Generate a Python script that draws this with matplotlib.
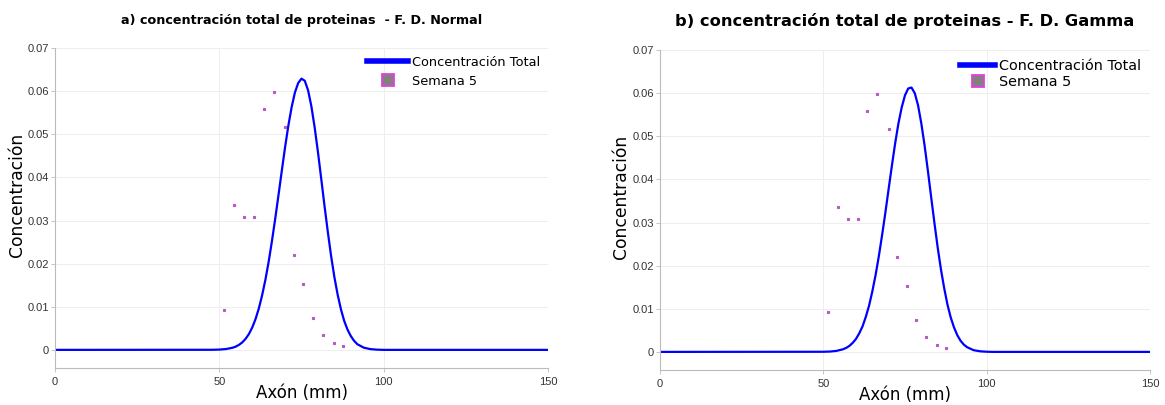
import matplotlib
matplotlib.use('Agg')
import matplotlib.pyplot as plt

# puntos medidos, semana 5 (iguales en ambos paneles)
sem5_x = [51.4, 54.4, 57.5, 60.5, 63.5, 66.5, 70.1, 72.6, 75.6, 78.5, 81.5, 84.8, 87.7]
sem5_y = [0.0093, 0.0336, 0.0309, 0.0309, 0.0559, 0.0599, 0.0518, 0.0219, 0.0153,
          0.0073, 0.0035, 0.0017, 0.0008]

# concentracion total - F. D. Normal
xa = [0, 48, 50, 52, 54, 55, 56, 57, 58, 59, 60, 61, 62, 63, 64, 65, 66, 67, 68, 69,
      70, 71, 72, 73, 74, 75, 76, 77, 78, 79, 80, 81, 82, 83, 84, 85, 86, 87, 88,
      89, 90, 91, 92, 94, 96, 98, 100, 150]
ya = [0, 0.00002, 0.00007, 0.00019, 0.00049, 0.00076, 0.00117, 0.00175, 0.00257,
      0.00368, 0.00517, 0.00711, 0.00956, 0.0126, 0.0162, 0.0204, 0.0252, 0.0304,
      0.0359, 0.0415, 0.0470, 0.0520, 0.0563, 0.0597, 0.0619, 0.0629, 0.0624,
      0.0602, 0.0565, 0.0516, 0.0459, 0.0397, 0.0334, 0.0274, 0.0218, 0.0169,
      0.0128, 0.0094, 0.0067, 0.0047, 0.0032, 0.0021, 0.0013, 0.0005, 0.00017,
      0.00005, 0, 0]

# concentracion total - F. D. Gamma
xb = [0, 50, 52, 54, 56, 57, 58, 59, 60, 61, 62, 63, 64, 65, 66, 67, 68, 69, 70, 71,
      72, 73, 74, 75, 76, 77, 78, 79, 80, 81, 82, 83, 84, 85, 86, 87, 88, 89, 90,
      91, 92, 93, 94, 96, 98, 100, 102, 150]
yb = [0, 0.00003, 0.00008, 0.00023, 0.0006, 0.00092, 0.0014, 0.0021, 0.0030,
      0.0043, 0.0059, 0.0081, 0.0107, 0.0140, 0.0178, 0.0222, 0.0271, 0.0323,
      0.0378, 0.0432, 0.0484, 0.0530, 0.0567, 0.0595, 0.0611, 0.0613, 0.0600,
      0.0572, 0.0530, 0.0479, 0.0421, 0.0360, 0.0300, 0.0243, 0.0192, 0.0148,
      0.0110, 0.0080, 0.0057, 0.0039, 0.0026, 0.0017, 0.0011, 0.0004, 0.00014,
      0.00004, 0, 0]

titulos = ['a) concentración total de proteinas  - F. D. Normal',
           'b) concentración total de proteinas - F. D. Gamma']
xticks = [0, 50, 100, 150]
yticks = [0, 0.01, 0.02, 0.03, 0.04, 0.05, 0.06, 0.07]
yticklabels = ['0', '0.01', '0.02', '0.03', '0.04', '0.05', '0.06', '0.07']

fig = plt.figure(figsize=(11.65, 4.05), dpi=100)
ax1 = fig.add_axes([0.0472, 0.0914, 0.4232, 0.790])
ax2 = fig.add_axes([0.5665, 0.0864, 0.4206, 0.790])

paneles = [(ax1, xa, ya, titulos[0], 9.2, 9.3, 0.45, 3.2, -0.059),
           (ax2, xb, yb, titulos[1], 11.7, 10.4, 0.15, 2.4, -0.061)]
for ax, x, y, tit, tsize, lsize, lspace, hlen, ylx in paneles:
    ax.plot(x, y, color='#0000ff', lw=1.6, label='Concentración Total')
    ax.plot(sem5_x, sem5_y, 's', ms=2.0, mfc='#9a70a0', mec='#b858c8', mew=0.8,
            ls='none', label='Semana 5')
    ax.set_xlim(0, 150)
    ax.set_ylim(-0.0042, 0.07)
    ax.set_xticks(xticks)
    ax.set_yticks(yticks)
    ax.set_yticklabels(yticklabels)
    ax.tick_params(labelsize=8, colors='#333333', length=3, width=0.6,
                   color='#bbbbbb', labelfontfamily='Liberation Sans')
    ax.tick_params(axis='y', pad=1.5)
    ax.grid(True, color='#eeeeee', lw=0.7)
    ax.set_axisbelow(True)
    for s in ['top', 'right']:
        ax.spines[s].set_visible(False)
    for s in ['left', 'bottom']:
        ax.spines[s].set_color('#bbbbbb')
        ax.spines[s].set_linewidth(0.8)
    ax.set_title(tit, fontsize=tsize, fontweight='bold', pad=17)
    ax.set_xlabel('Axón (mm)', fontsize=12)
    ax.xaxis.set_label_coords(0.5, -0.05)
    ax.set_ylabel('Concentración', fontsize=12.3)
    ax.yaxis.set_label_coords(ylx, 0.54)
    leg = ax.legend(loc='upper right', frameon=False, fontsize=lsize,
                    handlelength=hlen, handletextpad=0.3, labelspacing=lspace,
                    borderaxespad=0.2, markerscale=4.2)
    leg.get_lines()[0].set_linewidth(4)
    leg.get_lines()[1].set_markerfacecolor('#857f80')
    leg.get_lines()[1].set_markeredgecolor('#e040e0')
    leg.get_lines()[1].set_markeredgewidth(1.3)

fig.savefig('out.png', dpi=100)
